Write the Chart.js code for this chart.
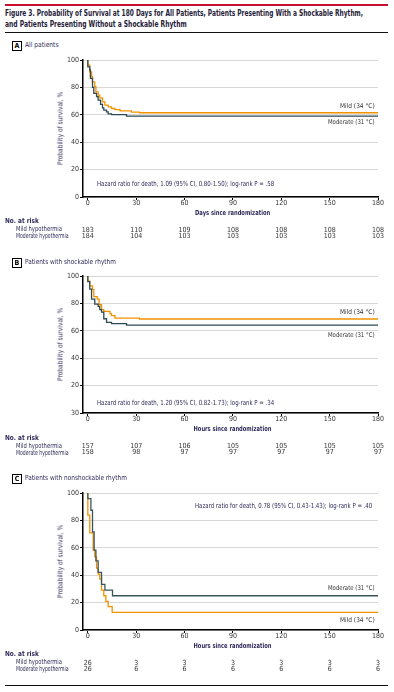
<!DOCTYPE html>
<html>
<head>
<meta charset="utf-8">
<script src="https://cdn.jsdelivr.net/npm/chart.js@4.4.1/dist/chart.umd.min.js"></script>
<style>
  html, body { margin: 0; padding: 0; background: #fff; }
  #fig { position: relative; width: 394px; height: 692px; overflow: hidden; background: #fff; }
  .t { position: absolute; white-space: nowrap; }
  .rule { position: absolute; left: 5px; width: 383px; }
  .box { position: absolute; width: 8px; height: 8px; border: 1px solid #000; font-weight: 700; text-align: center; }
  canvas { position: absolute; left: 0; }
</style>
</head>
<body>
<div id="fig">
  <div class="rule" style="top:4px;height:2px;background:#c8102e"></div>
  <div class="rule" style="top:32px;height:1px;background:#111"></div>
  <div class="rule" style="top:685px;height:1px;background:#111"></div>
</div>
<script>
// tick values + labels
const xTicks = [0, 30, 60, 90, 120, 150, 180];
const xTickLabels = ['0', '30', '60', '90', '120', '150', '180'];
const yTicks = [0, 20, 40, 60, 80, 100];
const yLabelsA = ['0', '20', '40', '60', '80', '100'];
const yLabelsB = ['30', '20', '40', '60', '80', '100']; // yes, the bottom one says 30 in the figure
const yLabelsC = ['0', '20', '40', '60', '80', '100'];

// A - all patients (days)
const timeMildA = [0, 1.2, 2.3, 2.9, 4.3, 5, 6.4, 7.4, 9.1, 10.6, 12.6, 14.7, 16.8, 20, 27, 32, 66, 180];
const survMildA = [100, 96.3, 91.4, 87.8, 84, 80.5, 76.8, 74.4, 72.4, 69.5, 67, 65.8, 64.6, 63.8, 62.8, 62, 61.5, 61.5];
const timeModA = [0, 1.2, 1.6, 2.9, 3.7, 5.4, 6.4, 7.9, 9.1, 9.9, 11.6, 12.6, 14.7, 24, 36, 180];
const survModA = [100, 95, 92.7, 86.6, 80, 75.6, 73.2, 70.7, 67.6, 65.1, 63.4, 62.2, 60.7, 60.2, 59, 59];

// B - shockable rhythm (hours)
const timeMildB = [0, 1.2, 2.9, 3.7, 5.8, 7, 8.5, 9.9, 13.7, 14.7, 16.8, 32, 66, 180];
const survMildB = [100, 96.2, 92.8, 90, 85, 83.1, 79, 75.4, 74.2, 72.5, 71.1, 69.3, 68.6, 68.6];
const timeModB = [0, 1.2, 2.3, 4.3, 6.4, 7.4, 8.5, 9.9, 11.6, 14.7, 24, 36.4, 180];
const survModB = [100, 95.9, 90.4, 83.1, 79.5, 77.8, 75.4, 73.7, 68.8, 66.2, 65.2, 64.2, 64.2];

// C - nonshockable rhythm (hours)
const timeMildC = [0, 1.2, 3.3, 4.3, 5.4, 6.4, 7.4, 8.5, 9.9, 11.2, 12.6, 15.1, 28, 180];
const survMildC = [100, 83.8, 70.9, 58.3, 53.4, 45.2, 40.8, 37.1, 29.1, 25, 20.9, 17, 12.8, 12.8];
const timeModC = [0, 1.9, 2.9, 3.9, 5, 6.4, 8.5, 10.6, 15.3, 28, 180];
const survModC = [100, 95.9, 87.4, 71.6, 58.3, 50.5, 42, 33.3, 29.1, 25, 25];

// numbers at risk
const riskMildA = [183, 110, 109, 108, 108, 108, 108];
const riskModA = [184, 104, 103, 103, 103, 103, 103];
const riskMildB = [157, 107, 106, 105, 105, 105, 105];
const riskModB = [158, 98, 97, 97, 97, 97, 97];
const riskMildC = [26, 3, 3, 3, 3, 3, 3];
const riskModC = [26, 6, 6, 6, 6, 6, 6];

const ORANGE = '#f39200';
const DARK = '#2c4a54';
const TEXT = '#2d2a58';
const TICK = '#353535';

function hasFont(name) {
  const c = document.createElement('canvas').getContext('2d');
  const s = 'abcdefghijklmnopqrstuvwxyz0123456789';
  c.font = '20px monospace';
  const a = c.measureText(s).width;
  c.font = '20px "' + name + '", monospace';
  return c.measureText(s).width !== a;
}
const narrowName = ['Liberation Sans Narrow', 'DejaVu Sans Condensed', 'Roboto Condensed'].find(hasFont);
const FONT = narrowName ? '"' + narrowName + '", "Liberation Sans", sans-serif' : '"Liberation Sans", Arial, sans-serif';

const fig = document.getElementById('fig');

// text helper, squeezes to the width seen in the figure
function label(txt, x, y, o) {
  o = o || {};
  const size = o.size || 7;
  const d = document.createElement('div');
  d.className = 't';
  d.textContent = txt;
  d.style.font = (o.weight || 400) + ' ' + size + 'px ' + FONT;
  d.style.lineHeight = size + 'px';
  d.style.color = o.color || TEXT;
  fig.appendChild(d);
  const w = d.offsetWidth;
  const s = o.w ? o.w / w : 1;
  const align = o.align || 'left';
  const left = align === 'left' ? x : align === 'right' ? x - w : x - w / 2;
  d.style.left = left + 'px';
  d.style.top = (y - size / 2) + 'px';
  d.style.transformOrigin = align === 'left' ? 'left center' : align === 'right' ? 'right center' : 'center center';
  d.style.transform = (o.rot ? 'rotate(' + o.rot + 'deg) ' : '') + 'scaleX(' + s + ')';
}

function letterBox(ch, x, y) {
  const b = document.createElement('div');
  b.className = 'box';
  b.textContent = ch;
  b.style.left = x + 'px';
  b.style.top = y + 'px';
  b.style.font = '700 7px ' + FONT;
  b.style.lineHeight = '8px';
  fig.appendChild(b);
}

// header
label('Figure 3. Probability of Survival at 180 Days for All Patients, Patients Presenting With a Shockable Rhythm,', 5, 13, { size: 9, weight: 600, w: 358, color: '#1f2238' });
label('and Patients Presenting Without a Shockable Rhythm', 5, 24, { size: 9, weight: 600, w: 182, color: '#1f2238' });

const riskPlugin = {
  id: 'risk',
  afterDraw(chart, args, opts) {
    const { ctx, chartArea } = chart;
    const x = chart.scales.x;
    ctx.save();
    ctx.font = '7px ' + FONT;
    ctx.fillStyle = TICK;
    ctx.textAlign = 'center';
    ctx.textBaseline = 'middle';
    opts.rows.forEach((row, r) => {
      row.forEach((n, i) => {
        ctx.fillText(String(n), x.getPixelForValue(xTicks[i]), chartArea.bottom + opts.offsets[r]);
      });
    });
    ctx.restore();
  }
};

function pts(t, s) {
  return t.map((v, i) => ({ x: v, y: s[i] }));
}

function panel(p) {
  const H = 8 + p.plotH + 47;
  const cv = document.createElement('canvas');
  cv.width = 394;
  cv.height = H;
  cv.style.top = (p.plotTop - 8) + 'px';
  fig.appendChild(cv);

  new Chart(cv.getContext('2d'), {
    type: 'line',
    data: {
      datasets: [
        { data: pts(p.tMod, p.sMod), borderColor: p.darkColor || DARK, borderWidth: 1.3, stepped: 'after', pointRadius: 0, fill: false },
        { data: pts(p.tMild, p.sMild), borderColor: ORANGE, borderWidth: 1.3, stepped: 'after', pointRadius: 0, fill: false }
      ]
    },
    options: {
      responsive: false,
      animation: false,
      layout: { padding: { top: 8, right: 16, left: 0, bottom: 0 } },
      plugins: {
        legend: { display: false },
        tooltip: { enabled: false },
        risk: { rows: [p.rMild, p.rMod], offsets: [32.8, 39.6] }
      },
      scales: {
        x: {
          type: 'linear',
          min: -3,
          max: 180,
          afterBuildTicks: s => { s.ticks = xTicks.map(v => ({ value: v })); },
          afterFit: s => { s.height = 47; },
          grid: { drawOnChartArea: false, drawTicks: true, tickLength: 3, tickColor: '#000' },
          border: { color: '#000', width: 1.5 },
          ticks: {
            autoSkip: false,
            maxRotation: 0,
            padding: 0,
            color: TICK,
            font: { family: FONT, size: 7, lineHeight: 1 },
            callback: (v, i) => xTickLabels[i]
          }
        },
        y: {
          min: 0,
          max: 100,
          afterBuildTicks: s => { s.ticks = yTicks.map(v => ({ value: v })); },
          afterFit: s => { s.width = 83; },
          grid: { color: '#d8d8d8', lineWidth: 1, tickLength: 3, tickColor: '#000' },
          border: { color: '#000', width: 1.5 },
          ticks: {
            padding: 1,
            color: TICK,
            font: { family: FONT, size: 7 },
            callback: (v, i) => p.yLabels[i]
          }
        }
      }
    },
    plugins: [riskPlugin]
  });

  const b = p.plotTop + p.plotH;
  letterBox(p.letter, 12, p.boxTop);
  label(p.name, 25, p.boxTop + 4.6, { size: 7, w: p.nameW });
  label('Probability of survival, %', 61, p.plotTop + p.plotH / 2, { size: 7, w: 73, align: 'center', rot: -90, color: TEXT });
  label(p.xTitle, 232, b + 16, { size: 7, weight: 600, w: p.xTitleW, align: 'center' });
  label('No. at risk', 5, b + 24.5, { size: 7, weight: 600, w: 34 });
  label('Mild hypothermia', 16, b + 32.8, { size: 7, w: 46 });
  label('Moderate hypothermia', 16, b + 39.6, { size: 7, w: 52.5 });
  label(p.hr, p.hrX, p.hrY, { size: 7, w: 177, align: p.hrAlign });
  label('Mild (34 °C)', 375, p.mildY, { size: 6.5, w: 35, align: 'right', color: '#333' });
  label('Moderate (31 °C)', 375, p.modY, { size: 6.5, w: 47, align: 'right', color: '#333' });
}

panel({
  letter: 'A', name: 'All patients', nameW: 34, boxTop: 41,
  plotTop: 60, plotH: 137, yLabels: yLabelsA,
  tMild: timeMildA, sMild: survMildA, tMod: timeModA, sMod: survModA,
  rMild: riskMildA, rMod: riskModA,
  xTitle: 'Days since randomization', xTitleW: 75,
  hr: 'Hazard ratio for death, 1.09 (95% CI, 0.80-1.50); log-rank P = .58', hrX: 97, hrY: 184, hrAlign: 'left',
  mildY: 106.7, modY: 122.3
});

panel({
  letter: 'B', name: 'Patients with shockable rhythm', nameW: 91, boxTop: 258,
  plotTop: 276, plotH: 137.5, yLabels: yLabelsB,
  tMild: timeMildB, sMild: survMildB, tMod: timeModB, sMod: survModB,
  rMild: riskMildB, rMod: riskModB,
  xTitle: 'Hours since randomization', xTitleW: 78,
  hr: 'Hazard ratio for death, 1.20 (95% CI, 0.82-1.73); log-rank P = .34', hrX: 97, hrY: 403, hrAlign: 'left',
  mildY: 312.3, modY: 335.7
});

panel({
  letter: 'C', name: 'Patients with nonshockable rhythm', nameW: 102, boxTop: 474,
  plotTop: 493, plotH: 137, yLabels: yLabelsC,
  tMild: timeMildC, sMild: survMildC, tMod: timeModC, sMod: survModC,
  rMild: riskMildC, rMod: riskModC, darkColor: '#3b545c',
  xTitle: 'Hours since randomization', xTitleW: 78,
  hr: 'Hazard ratio for death, 0.78 (95% CI, 0.43-1.43); log-rank P = .40', hrX: 372, hrY: 506.7, hrAlign: 'right',
  mildY: 620, modY: 588.3
});
</script>
</body>
</html>
